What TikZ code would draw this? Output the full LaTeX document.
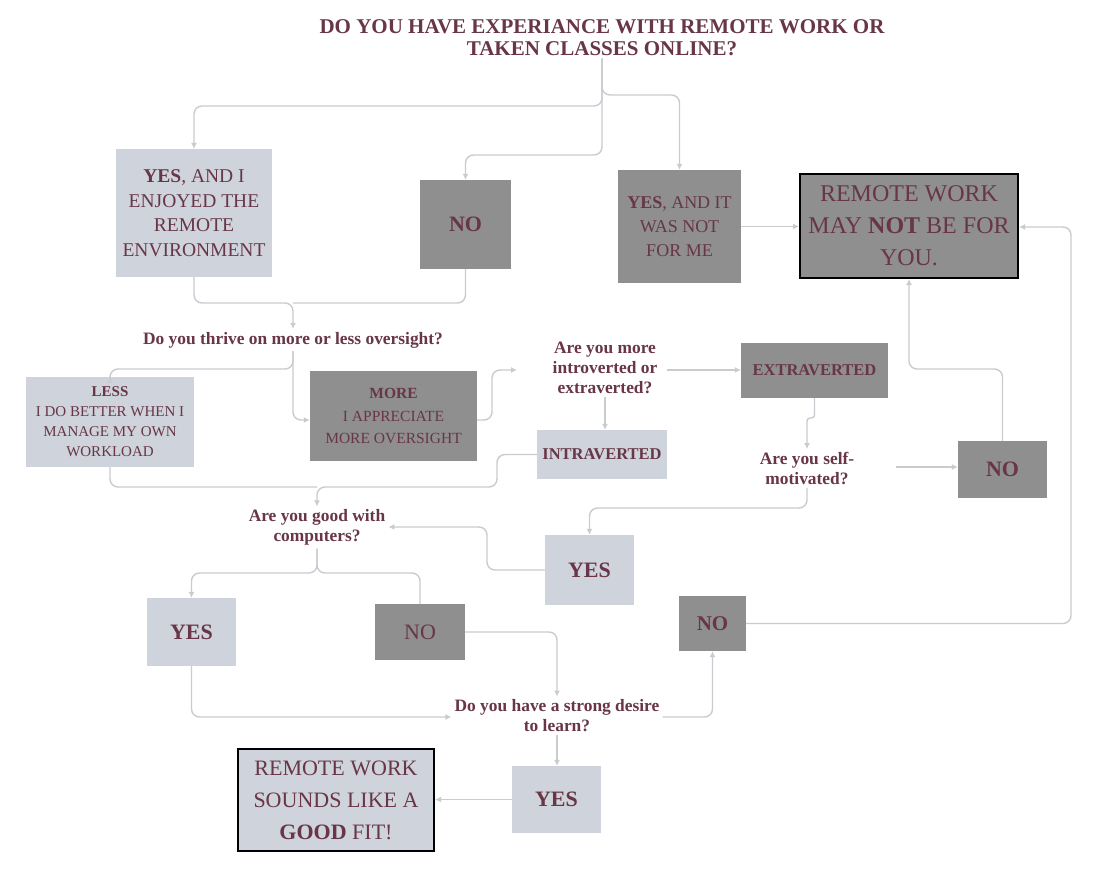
\documentclass[tikz,border=0pt]{standalone}
\usepackage{fontspec}
\setmainfont{Liberation Serif}
\usetikzlibrary{arrows.meta,calc}
\definecolor{txt}{RGB}{104,54,70}
\definecolor{lightc}{RGB}{206,211,220}
\definecolor{darkc}{RGB}{143,143,143}
\definecolor{linec}{RGB}{200,204,209}
\newcommand{\fs}[2]{\fontsize{#1}{#2}\selectfont}
\tikzset{
  conn/.style={draw=linec, line width=1.4pt, rounded corners=8pt},
  arr/.style={conn, -{Latex[length=6pt,width=6pt]}},
  lbox/.style={fill=lightc, text=txt, align=center, inner sep=0pt},
  dbox/.style={fill=darkc, text=txt, align=center, inner sep=0pt},
  endbox/.style={draw=black, line width=2pt},
  quest/.style={text=txt, align=center, font=\bfseries\fs{17.4}{20}, inner sep=3pt},
}
\begin{document}
\begin{tikzpicture}[x=1pt,y=-1pt]
\useasboundingbox[fill=white] (0,0) rectangle (1103,873);
% nodes
\node[text=txt, align=center, font=\bfseries\fs{21}{22}, inner sep=2pt] (T) at (602,38) {DO YOU HAVE EXPERIANCE WITH REMOTE WORK OR\\TAKEN CLASSES ONLINE?};
\node[lbox, minimum width=156, minimum height=128, font=\fs{19.5}{24.5}] (A) at (194,213) {\textbf{YES}, AND I\\ENJOYED THE\\REMOTE\\ENVIRONMENT};
\node[dbox, minimum width=91, minimum height=89, font=\bfseries\fs{22}{24}] (N1) at (465.5,224.5) {NO};
\node[dbox, minimum width=123, minimum height=113, font=\fs{18}{24}] (YN) at (679.5,226.5) {\textbf{YES}, AND IT\\WAS NOT\\FOR ME};
\node[dbox, endbox, minimum width=218, minimum height=104, font=\fs{24}{32}] (RN) at (909,226) {REMOTE WORK\\MAY \textbf{NOT} BE FOR\\YOU.};
\node[quest] (Q2) at (293,340) {Do you thrive on more or less oversight?};
\node[lbox, minimum width=168, minimum height=90, font=\fs{15}{20}] (L) at (110,422) {\textbf{LESS}\\I DO BETTER WHEN I\\MANAGE MY OWN\\WORKLOAD};
\node[dbox, minimum width=167, minimum height=90, font=\fs{15.5}{22.5}] (M) at (393.5,416) {\textbf{MORE}\\I APPRECIATE\\MORE OVERSIGHT};
\node[quest] (Q3) at (605,368) {Are you more\\introverted or\\extraverted?};
\node[dbox, minimum width=147, minimum height=55, font=\bfseries\fs{16.5}{20}] (EX) at (814.5,370.5) {EXTRAVERTED};
\node[lbox, minimum width=130, minimum height=49, font=\bfseries\fs{16.5}{20}] (IN) at (602,454.5) {INTRAVERTED};
\node[quest] (Q4) at (317,527.5) {Are you good with\\computers?};
\node[quest] (Q5) at (807,468.5) {Are you self-\\motivated?};
\node[dbox, minimum width=89, minimum height=57, font=\bfseries\fs{22}{24}] (N2) at (1002.5,469.5) {NO};
\node[lbox, minimum width=89, minimum height=70, font=\bfseries\fs{22}{24}] (Y1) at (589.5,570) {YES};
\node[lbox, minimum width=89, minimum height=68, font=\bfseries\fs{22}{24}] (Y2) at (191.5,632) {YES};
\node[dbox, minimum width=90, minimum height=56, font=\fs{22}{24}] (N3) at (420,632) {NO};
\node[quest] (Q6) at (557,716) {Do you have a strong desire\\to learn?};
\node[dbox, minimum width=67, minimum height=55, font=\bfseries\fs{21}{24}] (N4) at (712.5,623.5) {NO};
\node[lbox, minimum width=89, minimum height=67, font=\bfseries\fs{22}{24}] (Y3) at (556.5,799.5) {YES};
\node[lbox, endbox, minimum width=196, minimum height=102, font=\fs{22}{32}] (G) at (336,800) {REMOTE WORK\\SOUNDS LIKE A\\\textbf{GOOD} FIT!};
% free ends
\coordinate (q3in) at (517,370);
\coordinate (q3out) at (667,370);
\coordinate (q5out) at (896,467);
% connectors
\draw[arr] (T.south) -- (T.south |- 0,106) -- (A.north |- 0,106) -- (A.north);
\draw[arr] (T.south) -- (T.south |- 0,155) -- (N1.north |- 0,155) -- (N1.north);
\draw[arr] (T.south) -- (T.south |- 0,95) -- (YN.north |- 0,95) -- (YN.north);
\draw[arr] (YN.east) -- (RN.west |- YN.east);
\draw[arr] (A.south) -- (A.south |- 0,303) -- (Q2.north |- 0,303) -- (Q2.north);
\draw[conn] (N1.south) -- (N1.south |- 0,303) -- (Q2.north |- 0,303);
\draw[arr] (Q2.south) -- (Q2.south |- 0,369) -- (L.north |- 0,369) -- (L.north);
\draw[arr] (Q2.south) -- (Q2.south |- 0,420) -- (M.west |- 0,420);
\draw[arr] (M.east |- 0,420) -- (492,420) -- (492,370) -- (q3in);
\draw[arr] (q3out) -- (EX.west |- q3out);
\draw[arr] (Q3.south) -- (IN.north -| Q3.south);
\draw[arr] (IN.west) -- (IN.west -| 497,0) -- (497,487) -- (Q4.north |- 0,487) -- (Q4.north);
\draw[conn] (L.south) -- (L.south |- 0,487) -- (Q4.north |- 0,487);
\draw[arr, rounded corners=3pt] (EX.south) -- (EX.south |- 0,418) -- (Q5.north |- 0,418) -- (Q5.north);
\draw[arr] (q5out) -- (N2.west |- q5out);
\draw[arr] (N2.north) -- (N2.north |- 0,369) -- (RN.south |- 0,369) -- (RN.south);
\draw[arr] (Q5.south) -- (Q5.south |- 0,508) -- (Y1.north |- 0,508) -- (Y1.north);
\draw[arr] (Y1.west) -- (Y1.west -| 487,0) -- (487,527) -- (Q4.east |- 0,527);
\draw[arr] (Q4.south) -- (Q4.south |- 0,573) -- (Y2.north |- 0,573) -- (Y2.north);
\draw[conn] (Q4.south) -- (Q4.south |- 0,573) -- (N3.north |- 0,573) -- (N3.north);
\draw[arr] (N3.east) -- (N3.east -| Q6.north) -- (Q6.north);
\draw[arr] (Y2.south) -- (Y2.south |- 0,717) -- (Q6.west |- 0,717);
\draw[arr] (Q6.east |- 0,717) -- (N4.south |- 0,717) -- (N4.south);
\draw[arr] (N4.east) -- (N4.east -| 1071,0) -- (1071,227) -- (RN.east |- 0,227);
\draw[arr] (Q6.south) -- (Y3.north -| Q6.south);
\draw[arr] (Y3.west) -- (G.east |- Y3.west);
\end{tikzpicture}
\end{document}
